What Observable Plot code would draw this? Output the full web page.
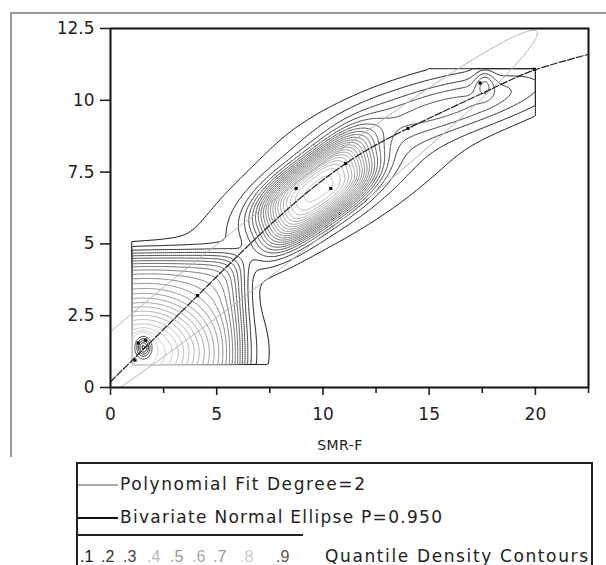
<!DOCTYPE html>
<html>
<head>
<meta charset="utf-8">
<script src="https://cdn.jsdelivr.net/npm/d3@7"></script>
<script src="https://cdn.jsdelivr.net/npm/@observablehq/plot@0.6"></script>
<style>
  body { margin: 0; background: #fff; }
  #wrap { position: relative; width: 606px; height: 565px; overflow: hidden; font-family: "DejaVu Sans", sans-serif; }
  #deco { position: absolute; left: 0; top: 0; }
  #chart { position: absolute; left: 0; top: 0; }
  #xlabel { position: absolute; left: 300px; width: 80px; top: 437px; text-align: center; font-size: 14px; letter-spacing: 0.5px; color: #222; }
</style>
</head>
<body>
<div id="wrap">
  <svg id="deco" width="606" height="565"></svg>
  <div id="chart"></div>
  <div id="xlabel">SMR-F</div>
</div>
<script>
// ---------- data ----------
const xTicks = [0, 5, 10, 15, 20];
const xMinorTicks = [2.5, 7.5, 12.5, 17.5, 22.5];
const yTicks = [0, 2.5, 5, 7.5, 10, 12.5];
const yTickLabels = ["0", "2.5", "5", "7.5", "10", "12.5"];

// observed points (black squares)
const pointX = [1.15, 1.3, 1.65, 4.1, 8.74, 10.37, 11.07, 14.0, 17.4, 19.95];
const pointY = [0.95, 1.55, 1.65, 3.2, 6.93, 6.93, 7.8, 9.02, 10.6, 11.08];

// polynomial fit (degree 2) line
const fitX = [0, 4.1, 7.94, 11.07, 14.0, 17.8, 19.95, 22.5];
const fitY = [0.2, 3.2, 5.95, 7.8, 9.02, 10.35, 11.05, 11.6];

// bivariate normal ellipse P=0.950 parameters (mean, sd, correlation)
const ellipseMean = [7.0, 4.85];
const ellipseSD = [5.35, 3.1];
const ellipseCorr = 0.9855;
const ellipseProb = 0.95;

// density model blobs
const blobCX    = [1.55, 1.5, 1.5, 9.7, 10.5, 16.5, 17.6, 11.0];
const blobCY    = [1.4, 1.2, 1.2, 6.85, 7.2, 9.9, 10.6, 7.5];
const blobSU    = [0.32, 4.7, 3.4, 2.73, 4.5, 5.0, 0.45, 8.0];
const blobSV    = [0.32, 3.4, 2.0, 1.1, 1.5, 0.85, 0.45, 2.0];
const blobAngle = [0, 0, 0, 28, 24, 10, 0, 22];
const blobPower = [2, 10, 2, 3, 2, 2, 2, 2];
const blobWeight= [0.8, 0.35, 0.65, 0.75, 0.07, 0.15, 0.1, 0.06];
const gridX = [1.0, 20.0];
const gridY = [0.8, 11.1];
const contourLevels = [0.03, 0.06, 0.10, 0.14, 0.18, 0.22, 0.26, 0.30, 0.34, 0.38, 0.42, 0.46, 0.50,
  0.54, 0.58, 0.62, 0.66, 0.70, 0.74, 0.78, 0.82, 0.86, 0.90, 0.94, 0.98, 1.15, 1.30, 1.45, 1.60, 1.75];

// legend content
const legendQuantiles = [".1", ".2", ".3", ".4", ".5", ".6", ".7", ".8", ".9"];
const legendQuantileColors = ["#111", "#333", "#444", "#bbb", "#999", "#aaa", "#999", "#ccc", "#555"];

// ---------- build ----------
const points = pointX.map((x, i) => ({x, y: pointY[i]}));
const fit = fitX.map((x, i) => ({x, y: fitY[i]}));

const chi = Math.sqrt(-2 * Math.log(1 - ellipseProb));
const ellipse = d3.range(0, 361).map(k => {
  const t = k * Math.PI / 180;
  return {
    x: ellipseMean[0] + chi * ellipseSD[0] * Math.cos(t),
    y: ellipseMean[1] + chi * ellipseSD[1] * (ellipseCorr * Math.cos(t) + Math.sqrt(1 - ellipseCorr * ellipseCorr) * Math.sin(t))
  };
});

function density(x, y) {
  let s = 0;
  for (let i = 0; i < blobWeight.length; i++) {
    const a = blobAngle[i] * Math.PI / 180;
    const dx = x - blobCX[i], dy = y - blobCY[i];
    const u = (dx * Math.cos(a) + dy * Math.sin(a)) / blobSU[i];
    const v = (-dx * Math.sin(a) + dy * Math.cos(a)) / blobSV[i];
    s += blobWeight[i] * Math.exp(-(Math.pow(Math.abs(u), blobPower[i]) + Math.pow(Math.abs(v), blobPower[i])));
  }
  return s;
}

const chart = Plot.plot({
  width: 606,
  height: 455,
  marginLeft: 110,
  marginRight: 18,
  marginTop: 28,
  marginBottom: 68,
  style: {fontFamily: "DejaVu Sans, sans-serif", color: "#222", background: "transparent"},
  x: {domain: [0, 22.5]},
  y: {domain: [0, 12.5]},
  color: {type: "linear", domain: [0.03, 0.15, 0.45, 0.98, 1.1, 1.75],
          range: ["#111", "#444", "#888", "#d2d2d2", "#555", "#111"], clamp: true},
  marks: [
    Plot.contour({
      value: density,
      x1: gridX[0], x2: gridX[1], y1: gridY[0], y2: gridY[1],
      thresholds: contourLevels,
      fill: "none",
      stroke: "value",
      strokeWidth: 1
    }),
    Plot.line(ellipse, {x: "x", y: "y", stroke: "#b4b4b4", strokeWidth: 1, clip: true}),
    Plot.line(fit, {x: "x", y: "y", curve: "natural", stroke: "#222", strokeWidth: 1.2, strokeDasharray: "7,2", clip: true}),
    Plot.dot(points, {x: "x", y: "y", symbol: "square", r: 1.8, fill: "#111", stroke: "none"}),
    Plot.axisX(xTicks, {tickSize: 8, tickPadding: 12, fontSize: 17, strokeWidth: 1.6, label: null, tickFormat: d => String(d)}),
    Plot.axisX(xMinorTicks, {tickSize: 6, strokeWidth: 1.6, label: null, tickFormat: () => ""}),
    Plot.axisY(yTicks, {tickSize: 10, tickPadding: 6, fontSize: 17, strokeWidth: 1.6, label: null,
      tickFormat: d => yTickLabels[yTicks.indexOf(d)]}),
    Plot.frame({stroke: "#111", strokeWidth: 2})
  ]
});
document.getElementById("chart").appendChild(chart);

// ---------- outer frame and legend ----------
const deco = d3.select("#deco");
deco.append("path").attr("d", "M11,457 V13 H606").attr("fill", "none").attr("stroke", "#9a9a9a").attr("stroke-width", 2);
// legend box
deco.append("path").attr("d", "M77,570 V463 H592 V570").attr("fill", "none").attr("stroke", "#222").attr("stroke-width", 2);
deco.append("line").attr("x1", 78).attr("x2", 118).attr("y1", 485).attr("y2", 485).attr("stroke", "#555").attr("stroke-width", 1.2);
deco.append("text").attr("x", 120).attr("y", 490).attr("font-size", 17).attr("fill", "#222")
  .attr("textLength", 245).attr("lengthAdjust", "spacing").text("Polynomial Fit Degree=2");
deco.append("line").attr("x1", 78).attr("x2", 118).attr("y1", 518).attr("y2", 518).attr("stroke", "#111").attr("stroke-width", 1.8);
deco.append("text").attr("x", 120).attr("y", 523).attr("font-size", 17).attr("fill", "#222")
  .attr("textLength", 322).attr("lengthAdjust", "spacing").text("Bivariate Normal Ellipse P=0.950");
deco.append("line").attr("x1", 78).attr("x2", 303).attr("y1", 535).attr("y2", 535).attr("stroke", "#222").attr("stroke-width", 2);
const qx = [80, 101, 123, 147, 170, 192, 213, 240, 276];
legendQuantiles.forEach((q, i) => {
  deco.append("text").attr("x", qx[i]).attr("y", 562).attr("font-size", 16)
    .attr("font-family", "Liberation Sans, sans-serif")
    .attr("fill", legendQuantileColors[i]).text(q);
});
deco.append("text").attr("x", 325).attr("y", 562).attr("font-size", 17).attr("fill", "#222")
  .attr("textLength", 263).attr("lengthAdjust", "spacing").text("Quantile Density Contours");
</script>
</body>
</html>
